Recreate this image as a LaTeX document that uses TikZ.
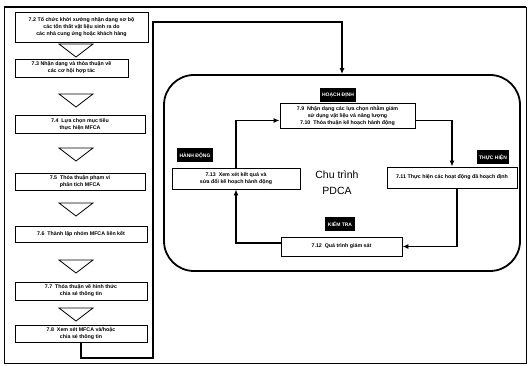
\documentclass[tikz,border=0pt]{standalone}
\usepackage{fontspec}
\setmainfont{Liberation Sans}
\usetikzlibrary{arrows.meta, positioning, calc}

\begin{document}
\begin{tikzpicture}[
    x=1pt, y=-1pt,
    font=\fontsize{5.3}{7}\selectfont\bfseries,
    step_box/.style ={rectangle, draw, line width=0.8pt, fill=white, align=center, inner sep=1pt},
    stage/.style    ={rectangle, fill=black, text=white, font=\fontsize{5}{6}\selectfont\bfseries, minimum height=14pt, inner xsep=2.5pt},
    funnel/.style   ={draw, line width=0.8pt},
    cyc_arrow/.style={line width=1.3pt, -{Latex[length=6pt,width=5pt]}},
    feed/.style     ={line width=1.2pt},
    ]
    \useasboundingbox (0,0) rectangle (528,366);

    % --- Frame ---
    \draw[line width=0.9pt] (4,7) rectangle (526,363);
    \draw[line width=1.6pt] (4,7) -- (526,7);

    % --- Preparation steps ---
    \node[step_box, minimum width=133pt, minimum height=30pt] (s72) at (81.5,27) {7.2 Tổ chức khởi xướng nhận dạng sơ bộ\\các tổn thất vật liệu sinh ra do\\các nhà cung ứng hoặc khách hàng};
    \node[step_box, minimum width=113pt, minimum height=18pt] (s73) at (71.5,68) {7.3 Nhận dạng và thỏa thuận về\\các cơ hội hợp tác};
    \node[step_box, minimum width=130pt, minimum height=18pt] (s74) at (80,124) {7.4\ \ Lựa chọn mục tiêu\\thực hiện MFCA};
    \node[step_box, minimum width=130pt, minimum height=17pt] (s75) at (80,181.5) {7.5\ \ Thỏa thuận phạm vi\\phân tích MFCA};
    \node[step_box, minimum width=132pt, minimum height=16pt] (s76) at (81,234) {7.6\ \ Thành lập nhóm MFCA liên kết};
    \node[step_box, minimum width=132pt, minimum height=18pt] (s77) at (81,291) {7.7\ \ Thỏa thuận về hình thức\\chia sẻ thông tin};
    \node[step_box, minimum width=132pt, minimum height=17pt] (s78) at (81,333.5) {7.8\ \ Xem xét MFCA và/hoặc\\chia sẻ thông tin};

    % funnels between the steps
    \foreach \ty in {44,94,148,203,260,308}
        \draw[funnel] (59,\ty) -- (93,\ty) -- (76,\ty+13) -- cycle;

    % --- PDCA cycle ---
    \node[draw, line width=1.8pt, rounded corners=30pt, minimum width=356pt, minimum height=196pt] (pdca) at (342,173) {};
    \node[font=\fontsize{10.5}{16}\selectfont, align=center] (pdca_title) at (337,183) {Chu trình\\PDCA};

    \node[stage] (lbl_plan) at (338,95) {HOẠCH ĐỊNH};
    \node[step_box, minimum width=135pt, minimum height=25pt] (s79) at (347.5,116) {7.9\ \ Nhận dạng các lựa chọn nhằm giảm\\sử dụng vật liệu và năng lượng\\7.10\ \ Thỏa thuận kế hoạch hành động};

    \node[stage] (lbl_do) at (493,157.5) {THỰC HIỆN};
    \node[step_box, minimum width=130pt, minimum height=21pt] (s711) at (452,177.5) {7.11 Thực hiện các hoạt động đã hoạch định};

    \node[stage] (lbl_check) at (340,224) {KIỂM TRA};
    \node[step_box, minimum width=121pt, minimum height=19pt] (s712) at (341.5,246.5) {7.12\ \ Quá trình giám sát};

    \node[stage] (lbl_act) at (195,155.5) {HÀNH ĐỘNG};
    \node[step_box, minimum width=128pt, minimum height=21pt] (s713) at (236,178.5) {7.13\ \ Xem xét kết quả và\\sửa đổi kế hoạch hành động};

    % --- Connections ---
    \coordinate (fb_low) at (153,358);
    \coordinate (fb_top) at (153,22);
    \draw[feed, -{Latex[length=6pt,width=5pt]}] (s78.south) |- (fb_low) -- (fb_top) -| (pdca.north);

    \draw[cyc_arrow] (s713.north) |- ([yshift=-4.5pt]s79.west);
    \draw[cyc_arrow] ([yshift=-4.5pt]s79.east) -| (s711.north);
    \draw[cyc_arrow] ([xshift=5pt]s711.south) |- (s712.east);
    \draw[cyc_arrow] ([yshift=3.5pt]s712.west) -| (s713.south);

\end{tikzpicture}
\end{document}
